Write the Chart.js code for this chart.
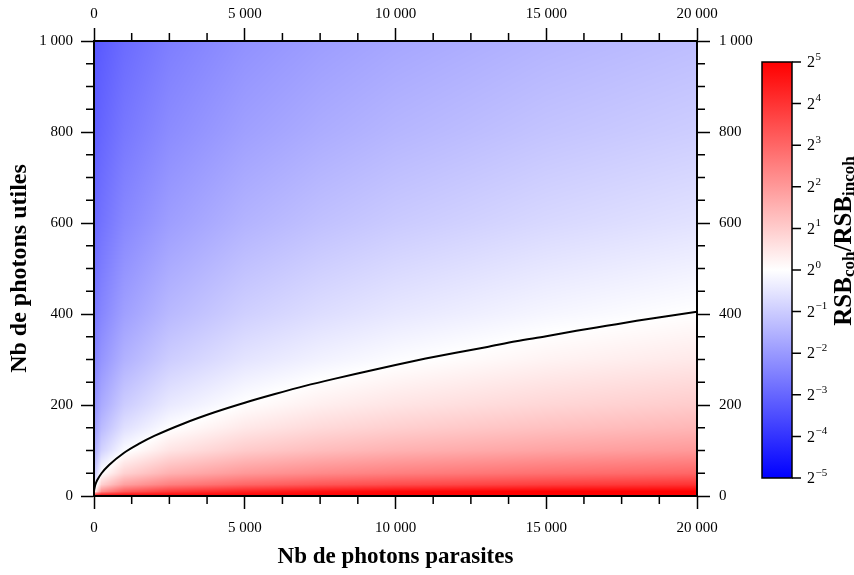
<!DOCTYPE html>
<html><head><meta charset="utf-8">
<script src="https://cdn.jsdelivr.net/npm/chart.js@4"></script>
<style>html,body{margin:0;padding:0;background:#fff}canvas{display:block}</style>
</head><body>
<canvas id="c" width="854" height="575"></canvas>
<script>
// ---- data ----
const NP_GRID = [0, 250, 1000, 2500, 5000, 7500, 10000, 15000, 20000];           // Nb de photons parasites
const NU_GRID = [0, 10, 25, 50, 100, 150, 200, 300, 400, 600, 800, 1000];          // Nb de photons utiles
// log2(RSB_coh / RSB_incoh), one row per NU_GRID value, one column per NP_GRID value
const LOG2_RATIO = [
  [ 5.00,  5.00,  5.00,  5.00,  5.00,  5.00,  5.00,  5.00,  5.00],
  [ 0.00,  2.20,  3.17,  3.83,  4.32,  4.62,  4.82,  5.00,  5.00],
  [-0.66,  0.92,  1.86,  2.51,  3.00,  3.30,  3.50,  3.79,  4.00],
  [-1.16,  0.00,  0.88,  1.52,  2.01,  2.30,  2.50,  2.80,  3.00],
  [-1.66, -0.87, -0.08,  0.53,  1.02,  1.30,  1.51,  1.80,  2.00],
  [-1.95, -1.34, -0.62, -0.03,  0.44,  0.73,  0.93,  1.22,  1.42],
  [-2.16, -1.66, -1.00, -0.43,  0.03,  0.32,  0.52,  0.80,  1.01],
  [-2.45, -2.08, -1.52, -0.98, -0.53, -0.26, -0.06,  0.23,  0.43],
  [-2.66, -2.37, -1.87, -1.37, -0.93, -0.66, -0.46, -0.18,  0.02],
  [-2.95, -2.75, -2.34, -1.90, -1.48, -1.22, -1.03, -0.76, -0.56],
  [-3.16, -3.00, -2.66, -2.26, -1.87, -1.62, -1.43, -1.16, -0.97],
  [-3.32, -3.19, -2.90, -2.53, -2.16, -1.92, -1.74, -1.47, -1.28]
];
// contour RSB_coh = RSB_incoh
const CURVE_NP = [0, 10, 25, 50, 100, 250, 500, 1000, 1500, 2000, 3000, 4000, 5000, 6000, 7000, 8000, 9000, 10000, 11000, 12000, 13000, 14000, 15000, 16000, 17000, 18000, 19000, 20000];
const CURVE_NU = [10, 15, 20, 26, 34, 50, 68, 95, 115, 132, 160, 184, 205, 224, 242, 258, 273, 288, 302, 315, 327, 340, 351, 363, 374, 385, 395, 405];
const X_TICKS = [0, 5000, 10000, 15000, 20000];
const Y_TICKS = [0, 200, 400, 600, 800, 1000];
const CB_EXPONENTS = [-5, -4, -3, -2, -1, 0, 1, 2, 3, 4, 5];

// ---- helpers ----
const FONT = "'Liberation Serif', 'Times New Roman', serif";
function fmt(v) {
  v = Math.round(v);
  if (v >= 1000) return Math.floor(v / 1000) + ' ' + String(v % 1000).padStart(3, '0');
  return String(v);
}
function colorFor(v) {
  v = Math.max(-5, Math.min(5, v));
  if (v < 0) { const t = 1 + v / 5; return [255 * t, 255 * t, 255]; }
  const t = 1 - v / 5; return [255, 255 * t, 255 * t];
}
function findIdx(arr, val) {
  if (val <= arr[0]) return [0, 0];
  for (let i = 0; i < arr.length - 1; i++) {
    if (val <= arr[i + 1]) return [i, (val - arr[i]) / (arr[i + 1] - arr[i])];
  }
  return [arr.length - 2, 1];
}
function lookup(np, nu) {
  const [i, fx] = findIdx(NP_GRID, np);
  const [j, fy] = findIdx(NU_GRID, nu);
  const a = LOG2_RATIO[j][i], b = LOG2_RATIO[j][i + 1];
  const c = LOG2_RATIO[j + 1][i], d = LOG2_RATIO[j + 1][i + 1];
  return (a * (1 - fx) + b * fx) * (1 - fy) + (c * (1 - fx) + d * fx) * fy;
}

// ---- plugins ----
const heatmapPlugin = {
  id: 'heatmap',
  beforeDatasetsDraw(chart) {
    const { ctx, chartArea: a, scales } = chart;
    const xs = scales.x, ys = scales.y;
    const w = Math.round(a.right - a.left), h = Math.round(a.bottom - a.top);
    const off = document.createElement('canvas');
    off.width = w; off.height = h;
    const octx = off.getContext('2d');
    const img = octx.createImageData(w, h);
    for (let j = 0; j < h; j++) {
      const nu = ys.getValueForPixel(a.top + j + 0.5);
      for (let i = 0; i < w; i++) {
        const np = xs.getValueForPixel(a.left + i + 0.5);
        const [r, g, b] = colorFor(lookup(np, nu));
        const k = (j * w + i) * 4;
        img.data[k] = r; img.data[k + 1] = g; img.data[k + 2] = b; img.data[k + 3] = 255;
      }
    }
    octx.putImageData(img, 0, 0);
    ctx.save();
    ctx.drawImage(off, a.left, a.top);
    ctx.restore();
  }
};

const minorTicksPlugin = {
  id: 'minorTicks',
  afterDraw(chart) {
    const { ctx, chartArea: a, scales } = chart;
    ctx.save();
    ctx.strokeStyle = '#000';
    ctx.lineWidth = 1.5;
    const L = 8;
    ctx.beginPath();
    for (let v = 1250; v < 20000; v += 1250) {
      if (v % 5000 === 0) continue;
      const px = scales.x.getPixelForValue(v);
      ctx.moveTo(px, a.bottom); ctx.lineTo(px, a.bottom + L);
      ctx.moveTo(px, a.top); ctx.lineTo(px, a.top - L);
    }
    for (let v = 50; v < 1000; v += 50) {
      if (v % 200 === 0) continue;
      const py = scales.y.getPixelForValue(v);
      ctx.moveTo(a.left, py); ctx.lineTo(a.left - L, py);
      ctx.moveTo(a.right, py); ctx.lineTo(a.right + L, py);
    }
    ctx.stroke();
    ctx.restore();
  }
};

const colorbarPlugin = {
  id: 'colorbar',
  afterDraw(chart) {
    const ctx = chart.ctx;
    const L = 762, R = 792, T = 62, B = 478;
    const yFor = e => B - (e + 5) / 10 * (B - T);
    ctx.save();
    const grad = ctx.createLinearGradient(0, B, 0, T);
    for (let k = 0; k <= 20; k++) {
      const v = -5 + k * 0.5;
      const [r, g, b] = colorFor(v);
      grad.addColorStop(k / 20, `rgb(${Math.round(r)},${Math.round(g)},${Math.round(b)})`);
    }
    ctx.fillStyle = grad;
    ctx.fillRect(L, T, R - L, B - T);
    ctx.strokeStyle = '#000';
    ctx.lineWidth = 1.5;
    ctx.strokeRect(L, T, R - L, B - T);
    ctx.beginPath();
    CB_EXPONENTS.forEach(e => { const y = yFor(e); ctx.moveTo(R, y); ctx.lineTo(R + 9, y); });
    ctx.stroke();
    ctx.fillStyle = '#000';
    ctx.textBaseline = 'middle';
    ctx.textAlign = 'left';
    CB_EXPONENTS.forEach(e => {
      const y = yFor(e);
      ctx.font = `16px ${FONT}`;
      ctx.fillText('2', 807, y + 1);
      const w2 = ctx.measureText('2').width;
      ctx.font = `11px ${FONT}`;
      ctx.fillText(e < 0 ? '\u2212' + (-e) : String(e), 807 + w2 + 0.5, y - 5);
    });
    ctx.restore();

    // colorbar title, rotated
    ctx.save();
    ctx.translate(851, 241);
    ctx.rotate(-Math.PI / 2);
    const parts = [['RSB', 25, 0], ['coh', 17, 3], ['/RSB', 25, 0], ['incoh', 17, 3]];
    let total = 0;
    parts.forEach(p => { ctx.font = `bold ${p[1]}px ${FONT}`; p.push(ctx.measureText(p[0]).width); total += p[3]; });
    let x = -total / 2;
    ctx.fillStyle = '#000';
    ctx.textAlign = 'left';
    ctx.textBaseline = 'alphabetic';
    parts.forEach(p => { ctx.font = `bold ${p[1]}px ${FONT}`; ctx.fillText(p[0], x, p[2]); x += p[3]; });
    ctx.restore();
  }
};

// ---- chart ----
const tickFont = { family: FONT, size: 15 };
function axis(position, ticksArr, min, max, pad, extra) {
  return Object.assign({
    type: 'linear', position, min, max,
    afterBuildTicks: s => { s.ticks = ticksArr.map(v => ({ value: v })); },
    ticks: { callback: fmt, font: tickFont, color: '#000', maxRotation: 0, autoSkip: false, padding: pad },
    grid: { display: true, drawOnChartArea: false, drawTicks: true, tickLength: 13, tickColor: '#000', tickWidth: 1.5, color: 'rgba(0,0,0,0)' },
    border: { display: true, color: '#000', width: 2, z: 1 }
  }, extra);
}

new Chart(document.getElementById('c'), {
  type: 'scatter',
  data: {
    datasets: [{
      data: CURVE_NP.map((x, i) => ({ x, y: CURVE_NU[i] })),
      showLine: true,
      borderColor: '#000',
      borderWidth: 2,
      pointRadius: 0,
      cubicInterpolationMode: 'monotone',
      xAxisID: 'x', yAxisID: 'y'
    }]
  },
  options: {
    responsive: false,
    animation: false,
    events: [],
    layout: { padding: 0 },
    plugins: { legend: { display: false }, tooltip: { enabled: false } },
    scales: {
      x: axis('bottom', X_TICKS, 0, 20000, 10, {
        title: { display: true, text: 'Nb de photons parasites', font: { family: FONT, size: 23, weight: 'bold' }, color: '#000', padding: { top: 0, bottom: 4 } },
        afterFit: s => { s.height = 79; }
      }),
      x2: axis('top', X_TICKS, 0, 20000, 5, { afterFit: s => { s.height = 41; } }),
      y: axis('left', Y_TICKS, 0, 1000, 8, {
        title: { display: true, text: 'Nb de photons utiles', font: { family: FONT, size: 24, weight: 'bold' }, color: '#000', padding: { top: 5, bottom: 0 } },
        afterFit: s => { s.width = 94; }
      }),
      y2: axis('right', Y_TICKS, 0, 1000, 9, { afterFit: s => { s.width = 157; } })
    }
  },
  plugins: [heatmapPlugin, minorTicksPlugin, colorbarPlugin]
});
</script>
</body></html>
